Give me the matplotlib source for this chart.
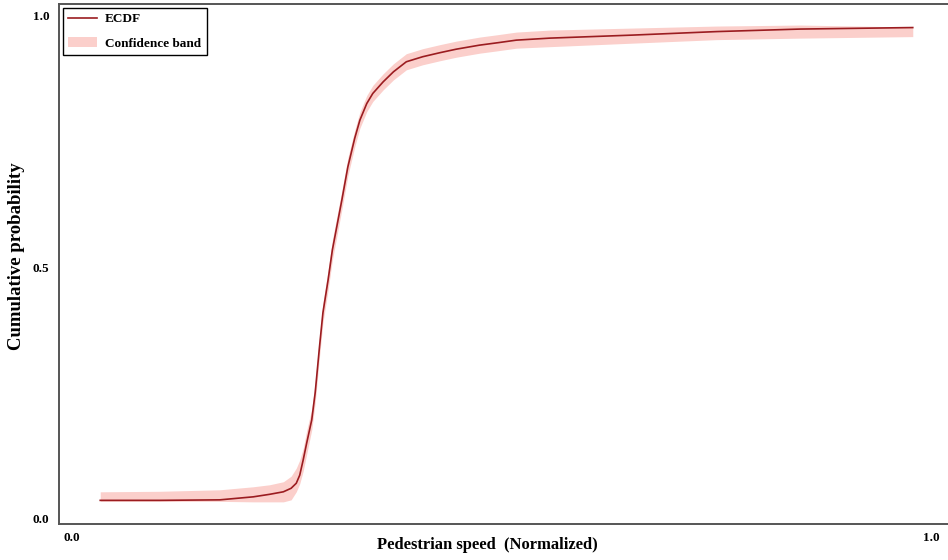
import matplotlib
matplotlib.use('Agg')
import matplotlib.pyplot as plt

# values
speed = [0.033, 0.102, 0.172, 0.211, 0.230, 0.246, 0.255, 0.261, 0.265, 0.269,
         0.273, 0.279, 0.283, 0.288, 0.292, 0.298, 0.303, 0.314, 0.321, 0.329,
         0.335, 0.343, 0.350, 0.362, 0.374, 0.389, 0.408, 0.428, 0.447, 0.474,
         0.496, 0.517, 0.556, 0.652, 0.750, 0.847, 0.978]
ecdf = [0.037, 0.037, 0.038, 0.044, 0.049, 0.054, 0.061, 0.071, 0.087, 0.117,
        0.150, 0.197, 0.251, 0.342, 0.410, 0.475, 0.535, 0.634, 0.700, 0.757,
        0.793, 0.826, 0.846, 0.869, 0.889, 0.909, 0.919, 0.927, 0.934, 0.942,
        0.947, 0.952, 0.956, 0.962, 0.969, 0.974, 0.977]
band_low = [0.035, 0.035, 0.035, 0.034, 0.034, 0.034, 0.038, 0.054, 0.070, 0.095,
            0.128, 0.177, 0.231, 0.322, 0.390, 0.455, 0.515, 0.615, 0.682, 0.740,
            0.777, 0.810, 0.830, 0.853, 0.873, 0.893, 0.903, 0.911, 0.918, 0.926,
            0.931, 0.936, 0.939, 0.946, 0.953, 0.956, 0.959]
band_high = [0.054, 0.055, 0.058, 0.064, 0.068, 0.074, 0.085, 0.101, 0.117, 0.140,
             0.175, 0.219, 0.272, 0.362, 0.430, 0.495, 0.555, 0.653, 0.718, 0.773,
             0.809, 0.842, 0.862, 0.885, 0.905, 0.925, 0.935, 0.943, 0.950, 0.958,
             0.963, 0.968, 0.972, 0.976, 0.980, 0.982, 0.978]

serif = ['Liberation Serif', 'DejaVu Serif']

fig = plt.figure(figsize=(9.48, 5.6), dpi=100)
ax = fig.add_axes([0.0622, 0.0643, 0.9378, 0.9287])

ax.fill_between(speed, band_low, band_high, color='#fbcfcb', linewidth=0,
                label='Confidence band')
ax.plot(speed, ecdf, color='#9b1c20', linewidth=1.2, label='ECDF')

ax.set_xlim(-0.015, 1.019)
ax.set_ylim(-0.01, 1.024)
ax.set_xticks([0.0, 1.0])
ax.set_yticks([0.0, 0.5, 1.0])
ax.set_xticklabels(['0.0', '1.0'], fontfamily=serif, fontweight='bold', fontsize=9.5)
ax.set_yticklabels(['0.0', '0.5', '1.0'], fontfamily=serif, fontweight='bold', fontsize=9.5)
ax.tick_params(axis='x', length=0, pad=6)
ax.tick_params(axis='y', length=0, pad=7)

for side in ['left', 'bottom', 'top']:
    ax.spines[side].set_color('#555555')
    ax.spines[side].set_linewidth(1.4)
ax.spines['right'].set_visible(False)

# axis titles placed by hand so they fit inside the figure like the original
fig.text(487 / 948, 1 - 545 / 560, 'Pedestrian speed  (Normalized)', fontfamily=serif,
         fontweight='bold', fontsize=12, ha='center', va='center')
fig.text(17 / 948, 1 - 256 / 560, 'Cumulative probability', fontfamily=serif,
         fontweight='bold', fontsize=13.5, ha='center', va='center', rotation=90)

handles, labels = ax.get_legend_handles_labels()
leg = ax.legend(handles[::-1], labels[::-1], loc='upper left',
                prop={'family': serif, 'weight': 'bold', 'size': 9.5},
                fancybox=False, framealpha=1, edgecolor='black',
                borderaxespad=0.3, handlelength=2.2, handletextpad=0.6,
                labelspacing=0.9)
leg.get_frame().set_linewidth(1.0)

fig.savefig('out.png', dpi=100)
